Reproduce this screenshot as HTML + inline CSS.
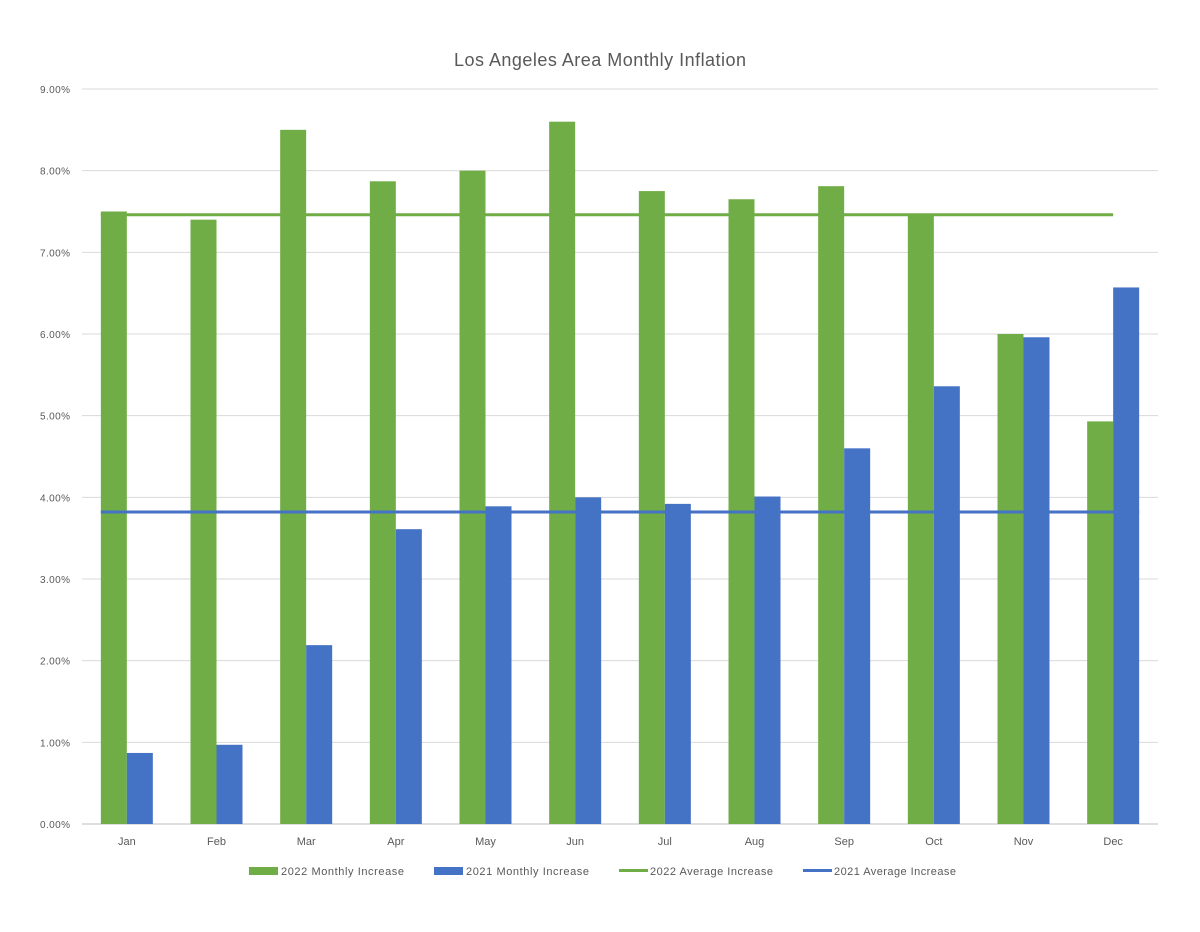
<!DOCTYPE html>
<html><head><meta charset="utf-8"><style>
body{margin:0;background:#fff;}
svg text{font-family:"Liberation Sans",sans-serif;fill:#595959;}
</style></head><body>
<svg id="chart" width="1200" height="927" xmlns="http://www.w3.org/2000/svg">
<text x="600" y="66" text-anchor="middle" font-size="18" textLength="292">Los Angeles Area Monthly Inflation</text>
<g id="grid"></g><g id="bars"></g><g id="lines"></g><g id="labels"></g>
<g font-size="11">
<rect x="249" y="867" width="29" height="8" fill="#70ad47"/>
<text x="281" y="875" font-size="11" textLength="123">2022 Monthly Increase</text>
<rect x="434" y="867" width="29" height="8" fill="#4472c4"/>
<text x="466" y="875" font-size="11" textLength="123">2021 Monthly Increase</text>
<rect x="619" y="869" width="29" height="3" fill="#70ad47"/>
<text x="650" y="875" font-size="11" textLength="123">2022 Average Increase</text>
<rect x="803" y="869" width="29" height="3" fill="#4472c4"/>
<text x="834" y="875" font-size="11" textLength="122">2021 Average Increase</text>
</g>
</svg>
<script>
const categories=["Jan","Feb","Mar","Apr","May","Jun","Jul","Aug","Sep","Oct","Nov","Dec"];
const values2022=[7.5,7.4,8.5,7.87,8.0,8.6,7.75,7.65,7.81,7.46,6.0,4.93];
const values2021=[0.87,0.97,2.19,3.61,3.89,4.0,3.92,4.01,4.6,5.36,5.96,6.57];
const avg2022=[7.46];
const avg2021=[3.82];
const yTicks=[0,1,2,3,4,5,6,7,8,9];
const NS="http://www.w3.org/2000/svg";
const x0=82,x1=1158,y0=824,y9=89,step=(x1-x0)/12,bw=26;
const y=v=>y0-(v/9)*(y0-y9);
const xc=i=>x0+step*(i+0.5);
function mk(t,a,p){const e=document.createElementNS(NS,t);for(const k in a)e.setAttribute(k,a[k]);document.getElementById(p).appendChild(e);return e;}
yTicks.forEach(t=>{
 const l=mk('line',{x1:x0,x2:x1,y1:y(t),y2:y(t),stroke:t===0?'#bfbfbf':'#d9d9d9','stroke-width':1},'grid');
 
 
 const tx=mk('text',{x:70,y:y(t)+4,'text-anchor':'end','font-size':10,textLength:30},'labels');
 tx.textContent=t.toFixed(2)+'%';
 
 
});
categories.forEach((c,i)=>{
 const g=mk('rect',{x:xc(i)-bw,y:y(values2022[i]),width:bw,height:y0-y(values2022[i]),fill:'#70ad47'},'bars');
 
 
 const b=mk('rect',{x:xc(i),y:y(values2021[i]),width:bw,height:y0-y(values2021[i]),fill:'#4472c4'},'bars');
 
 
 const t=mk('text',{x:xc(i),y:845,'text-anchor':'middle','font-size':11},'labels');
 t.textContent=c;
 
 
});
const la=mk('line',{x1:xc(0)-bw,x2:xc(11),y1:y(avg2022[0]),y2:y(avg2022[0]),stroke:'#70ad47','stroke-width':3},'lines');


const lb=mk('line',{x1:xc(0)-bw,x2:xc(11)+bw,y1:y(avg2021[0]),y2:y(avg2021[0]),stroke:'#4472c4','stroke-width':3},'lines');


</script>
</body></html>
